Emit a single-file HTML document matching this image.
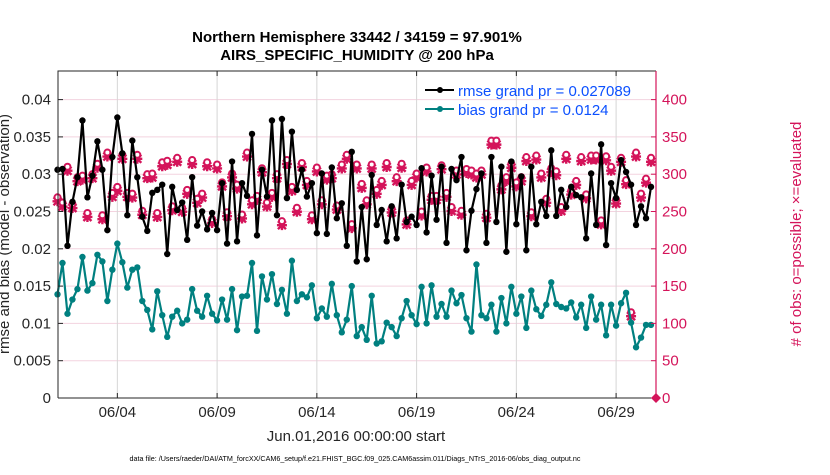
<!DOCTYPE html>
<html><head><meta charset="utf-8"><style>
body{margin:0;background:#fff;}
svg text{font-family:"Liberation Sans",Arial,sans-serif;}
</style></head><body>
<svg id="chart" width="830" height="470" viewBox="0 0 830 470" xmlns="http://www.w3.org/2000/svg">
<g id="grid"></g><g id="series"></g><g id="axes"></g>
</svg>
<script>
const rmseValues=[.0306,.0307,.0204,.0263,.0296,.0372,.0269,.0298,.0344,.0306,.0225,.0323,.0376,.0328,.0245,.0345,.0296,.0243,.0224,.0275,.0279,.0286,.0193,.0283,.0252,.0262,.0212,.0296,.0231,.0250,
.0226,.0248,.0225,.0288,.0207,.0317,.0210,.0288,.0271,.0354,.0218,.0306,.0270,.0372,.0245,.0374,.0268,.0357,.0279,.0306,.0270,.0288,.0221,.0301,.0220,.0309,.0241,.0261,.0204,
.0330,.0183,.0256,.0186,.0299,.0232,.0252,.0210,.0257,.0214,.0286,.0236,.0243,.0232,.0308,.0222,.0298,.0239,.0310,.0208,.0307,.0292,.0323,.0198,.0251,.0280,.0301,.0208,.0323,
.0236,.0310,.0196,.0317,.0233,.0297,.0198,.0310,.0233,.0263,.0244,.0332,.0244,.0279,.0256,.0283,.0272,.0269,.0214,.0301,.0232,.0340,.0205,.0288,.0268,.0319,.0303,.0286,
.0232,.0257,.0241,.0283];
const biasValues=[.0139,.0181,.0113,.0132,.0146,.0189,.0144,.0154,.0192,.0183,.0130,.0172,.0207,.0182,.0148,.0172,.0175,.0130,.0118,.0092,.0143,.0111,.0082,.0109,.0117,.0100,.0105,.0146,.0117,.0109,
.0137,.0113,.0104,.0132,.0105,.0146,.0091,.0136,.0137,.0181,.0090,.0163,.0132,.0166,.0126,.0145,.0113,.0184,.0130,.0139,.0135,.0151,.0107,.0120,.0109,.0153,.0111,.0088,.0105,
.0150,.0083,.0095,.0078,.0137,.0073,.0076,.0101,.0095,.0083,.0107,.0130,.0111,.0099,.0149,.0100,.0151,.0109,.0126,.0109,.0144,.0127,.0138,.0107,.0089,.0179,.0111,.0107,.0125,
.0089,.0134,.0100,.0149,.0113,.0136,.0094,.0144,.0119,.0110,.0125,.0155,.0126,.0122,.0120,.0128,.0108,.0125,.0094,.0136,.0105,.0125,.0084,.0125,.0097,.0127,.0141,.0101,
.0068,.0081,.0098,.0098];
const obsPossible=[265,258,306,256,292,294,244,296,310,241,325,271,279,322,271,270,322,247,296,297,244,312,314,253,318,251,275,315,263,270,
312,236,309,285,245,297,282,242,325,261,267,304,258,271,296,233,315,279,251,311,287,241,305,261,294,296,254,309,322,
229,309,283,261,309,275,287,311,250,292,310,234,287,297,246,305,267,267,308,271,252,301,247,303,301,297,301,243,341,
341,281,292,310,285,292,319,245,321,297,263,304,300,252,322,274,287,319,269,321,321,234,320,306,262,318,288,111,
325,270,290,318];
const obsEvaluated=obsPossible.slice();
const xTickDays=[3,8,13,18,23,28];
const xTickLabels=["06/04","06/09","06/14","06/19","06/24","06/29"];
const yTicks=[0,0.005,0.01,0.015,0.02,0.025,0.03,0.035,0.04];
const yTickLabels=["0","0.005","0.01","0.015","0.02","0.025","0.03","0.035","0.04"];
const rTicks=[0,50,100,150,200,250,300,350,400];
const stepDays=0.25;

const L=58,R=656,T=71,B=398;
const xs=d=>57.5+d*19.95;
const yL=v=>B-v/0.005*37.3;
const yR=v=>B-v/50*37.3;
const NS="http://www.w3.org/2000/svg";
function mk(parent,tag,attrs,text){const e=document.createElementNS(NS,tag);for(const k in attrs)e.setAttribute(k,attrs[k]);if(text!==undefined)e.textContent=text;parent.appendChild(e);return e;}
const grid=document.getElementById('grid'),ser=document.getElementById('series'),ax=document.getElementById('axes');
const red="#d4145a",teal="#008080";

yTicks.forEach((v,i)=>{if(v>0){const g=mk(grid,'line',{x1:L,x2:R,y1:yL(v),y2:yL(v),stroke:'#f3d3df','stroke-width':1});

}});
xTickDays.forEach(d=>{const g=mk(grid,'line',{x1:xs(d),x2:xs(d),y1:T,y2:B,stroke:'#d6d6d6','stroke-width':1});

});

obsEvaluated.forEach((v,i)=>{const x=xs(i*stepDays),y=yR(v)+1;
const g=mk(ser,'path',{d:`M${x-5},${y}h10M${x},${y-5}v10M${x-4},${y-4}l8,8M${x+4},${y-4}l-8,8`,stroke:red,'stroke-width':2.4});

});
obsPossible.forEach((v,i)=>{const x=xs(i*stepDays),y=yR(v);
const c=mk(ser,'circle',{cx:x,cy:y-3,r:3,fill:'#fff',stroke:red,'stroke-width':2});

});

function series(vals,color,name){
const pts=vals.map((v,i)=>[xs(i*stepDays),yL(v)]);
const p=mk(ser,'polyline',{points:pts.map(p=>p.join(',')).join(' '),fill:'none',stroke:color,'stroke-width':2.2,'stroke-linejoin':'round'});


pts.forEach(q=>{const c=mk(ser,'circle',{cx:q[0],cy:q[1],r:3.2,fill:color});

});}
series(biasValues,teal,'bias');
series(rmseValues,'#000','rmse');

const dm=mk(ser,'path',{d:`M${R},${B-5}l5,5l-5,5l-5,-5z`,fill:red});



const fr=mk(ax,'path',{d:`M${L},${B}V${T}H${R}`,fill:'none',stroke:'#262626','stroke-width':1});


const xa=mk(ax,'line',{x1:L,x2:R,y1:B,y2:B,stroke:'#262626','stroke-width':1});


const ra=mk(ax,'line',{x1:R,x2:R,y1:T,y2:B,stroke:red,'stroke-width':1.2});



yTicks.forEach((v,i)=>{const y=yL(v);
mk(ax,'line',{x1:L,x2:L+5,y1:y,y2:y,stroke:'#262626'});
const t=mk(ax,'text',{x:51,y:y+5,'text-anchor':'end','font-size':15,fill:'#262626'},yTickLabels[i]);

});
rTicks.forEach(v=>{const y=yR(v);
mk(ax,'line',{x1:R-5,x2:R,y1:y,y2:y,stroke:red});
const t=mk(ax,'text',{x:662,y:y+5,'font-size':15,fill:red},String(v));

});
xTickDays.forEach((d,i)=>{const x=xs(d);
mk(ax,'line',{x1:x,x2:x,y1:B,y2:B-5,stroke:'#262626'});
mk(ax,'line',{x1:x,x2:x,y1:T,y2:T+5,stroke:'#262626'});
const t=mk(ax,'text',{x:x,y:417,'text-anchor':'middle','font-size':15,fill:'#262626'},xTickLabels[i]);

});
</script>
<svg style="position:absolute;left:0;top:0" width="830" height="470">
<text x="357" y="42" text-anchor="middle" font-size="15" font-weight="bold" fill="#000">Northern Hemisphere 33442 / 34159 = 97.901%</text>
<text x="357" y="60" text-anchor="middle" font-size="15" font-weight="bold" fill="#000">AIRS_SPECIFIC_HUMIDITY @ 200 hPa</text>
<g>
<line x1="425" x2="454" y1="90" y2="90" stroke="#000" stroke-width="2"/><circle cx="440" cy="90" r="3" fill="#000"/>
<text x="458" y="96" font-size="15" fill="#0b50ff">rmse grand pr = 0.027089</text>
<line x1="425" x2="454" y1="109" y2="109" stroke="#008080" stroke-width="2"/><circle cx="440" cy="109" r="3" fill="#008080"/>
<text x="458" y="115" font-size="15" fill="#0b50ff">bias grand pr = 0.0124</text>
</g>
<text transform="translate(9,234) rotate(-90)" text-anchor="middle" font-size="15" fill="#262626">rmse and bias (model - observation)</text>
<text transform="translate(801,234) rotate(-90)" text-anchor="middle" font-size="15" fill="#d4145a"># of obs: o=possible; ×=evaluated</text>
<text x="356" y="441" text-anchor="middle" font-size="15" fill="#262626">Jun.01,2016 00:00:00 start</text>
<text x="355" y="461" text-anchor="middle" font-size="7.2" fill="#000">data file: /Users/raeder/DAI/ATM_forcXX/CAM6_setup/f.e21.FHIST_BGC.f09_025.CAM6assim.011/Diags_NTrS_2016-06/obs_diag_output.nc</text>
</svg>
</body></html>
